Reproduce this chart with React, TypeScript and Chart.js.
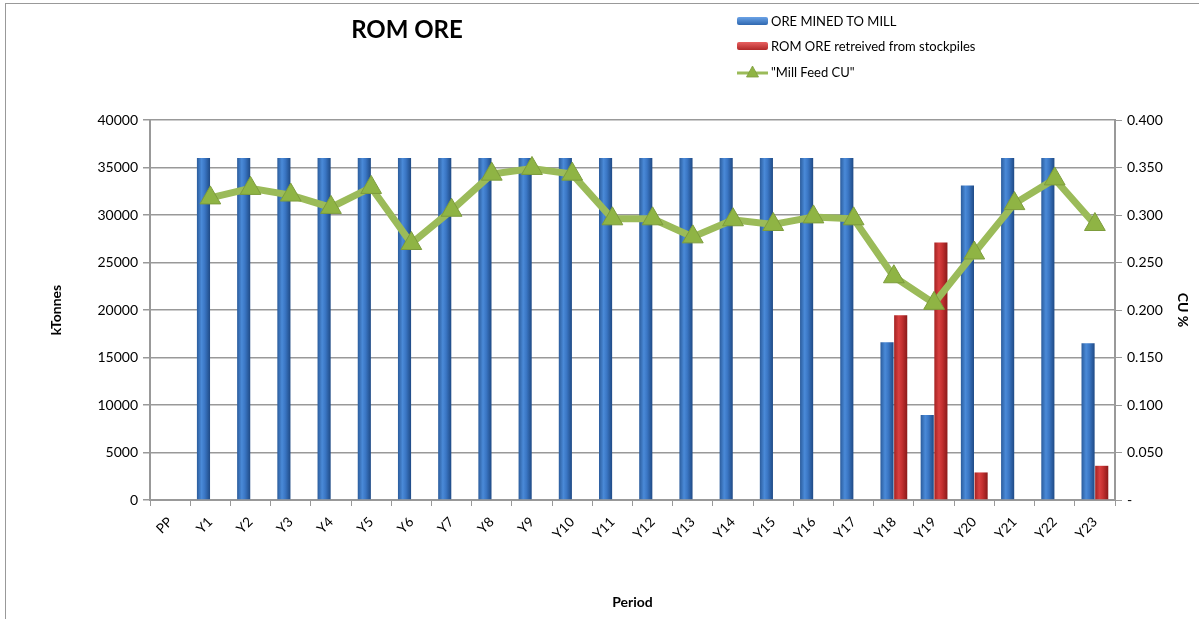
import React, { useEffect, useRef } from "react";
import { Chart, registerables } from "chart.js";

Chart.register(...registerables);

const categories = ["PP","Y1","Y2","Y3","Y4","Y5","Y6","Y7","Y8","Y9","Y10","Y11","Y12","Y13","Y14","Y15","Y16","Y17","Y18","Y19","Y20","Y21","Y22","Y23"];
const oreMinedToMill = [null,36000,36000,36000,36000,36000,36000,36000,36000,36000,36000,36000,36000,36000,36000,36000,36000,36000,16600,8950,33100,36000,36000,16500];
const romFromStockpiles = [null,null,null,null,null,null,null,null,null,null,null,null,null,null,null,null,null,null,19450,27100,2900,null,null,3600];
const millFeedCu = [null,0.318,0.328,0.321,0.308,0.329,0.270,0.305,0.343,0.349,0.343,0.296,0.296,0.277,0.295,0.290,0.298,0.296,0.235,0.207,0.260,0.312,0.338,0.290];
const leftTicks = [0,5000,10000,15000,20000,25000,30000,35000,40000];

const FONT = "Lato, 'Open Sans', sans-serif";
const CP = 0.68;
const BP = 0.96;

function barGradient(ctx: any, dsIndex: number, colors: string[]) {
  const chart = ctx.chart;
  const xs = chart && chart.scales && chart.scales.x;
  if (!xs || ctx.dataIndex === undefined || !chart.ctx) return colors[1];
  const cw = xs.width / categories.length;
  const center = xs.getPixelForValue(ctx.dataIndex);
  if (!isFinite(cw) || !isFinite(center) || cw <= 0) return colors[1];
  const gw = cw * CP;
  const bw = (gw / 2) * BP;
  const bc = dsIndex === 0 ? center - gw / 4 : center + gw / 4;
  const g = chart.ctx.createLinearGradient(bc - bw / 2, 0, bc + bw / 2, 0);
  g.addColorStop(0, colors[0]);
  g.addColorStop(0.35, colors[1]);
  g.addColorStop(0.6, colors[2]);
  g.addColorStop(1, colors[3]);
  return g;
}

export default function App() {
  const ref = useRef<HTMLCanvasElement | null>(null);
  useEffect(() => {
    if (!ref.current) return;
    const chart = new Chart(ref.current, {
      type: "bar",
      data: {
        labels: categories,
        datasets: [
          {
            type: "line",
            label: '"Mill Feed CU"',
            data: millFeedCu,
            yAxisID: "y2",
            borderColor: "#9bbb59",
            borderWidth: 7,
            pointStyle: "triangle",
            pointRadius: 12,
            pointBackgroundColor: "#8fb444",
            pointBorderColor: "#7d9c3c",
            pointBorderWidth: 1,
            order: 0,
            tension: 0,
          } as any,
          {
            label: "ORE MINED TO MILL",
            data: oreMinedToMill,
            yAxisID: "y",
            backgroundColor: (c: any) => barGradient(c, 0, ["#2b5c9c", "#4a8ad8", "#3a76c4", "#1f4a85"]),
            categoryPercentage: CP,
            barPercentage: BP,
            order: 1,
          },
          {
            label: "ROM ORE retreived from stockpiles",
            data: romFromStockpiles,
            yAxisID: "y",
            backgroundColor: (c: any) => barGradient(c, 1, ["#a42222", "#d84040", "#c43030", "#8a1a1a"]),
            categoryPercentage: CP,
            barPercentage: BP,
            order: 2,
          },
        ],
      },
      options: {
        animation: false,
        responsive: false,
        maintainAspectRatio: false,
        layout: { padding: { top: 120, left: 44, right: 4, bottom: 4 } },
        plugins: { legend: { display: false }, title: { display: false }, tooltip: { enabled: false } },
        scales: {
          x: {
            grid: { display: true, drawOnChartArea: false, color: "#999", tickLength: 6, offset: true },
            border: { color: "#999", width: 2 },
            ticks: { color: "#000", font: { family: FONT, size: 13.5 }, maxRotation: 45, minRotation: 45, autoSkip: false, padding: 8 },
            title: { display: true, text: "Period", color: "#000", font: { family: FONT, size: 14, weight: "bold" } },
            afterFit: (s: any) => { s.height = 115; },
          },
          y: {
            position: "left",
            min: 0,
            max: 40000,
            afterBuildTicks: (s: any) => { s.ticks = leftTicks.map((v) => ({ value: v })); },
            grid: { color: "#999", lineWidth: 1.5, tickLength: 7 },
            border: { color: "#999", width: 2 },
            ticks: { color: "#000", font: { family: FONT, size: 14 }, padding: 5, callback: (v: any) => String(v) },
            title: { display: true, text: "kTonnes", color: "#000", font: { family: FONT, size: 14, weight: "bold" } },
            afterFit: (s: any) => { s.width = 106; },
          },
          y2: {
            position: "right",
            min: 0,
            max: 0.4,
            grid: { drawOnChartArea: false, color: "#999", tickLength: 7 },
            border: { color: "#999", width: 2 },
            ticks: {
              stepSize: 0.05,
              color: "#000",
              font: { family: FONT, size: 14 },
              padding: 5,
              callback: (v: any) => (Math.abs(Number(v)) < 1e-9 ? "-" : Number(v).toFixed(3)),
            },
            title: { display: true, text: "CU %", color: "#000", font: { family: FONT, size: 14, weight: "bold" } },
            afterFit: (s: any) => { s.width = 80; },
          },
        },
      } as any,
    });
    return () => chart.destroy();
  }, []);

  const legendRow = (top: number, swatch: React.ReactNode, text: string) => (
    <div style={{ position: "absolute", left: 737, top, height: 16, display: "flex", alignItems: "center", fontFamily: FONT, fontSize: 13, color: "#000", whiteSpace: "nowrap" }}>
      {swatch}
      <span style={{ marginLeft: 3 }}>{text}</span>
    </div>
  );

  return (
    <div style={{ position: "fixed", left: 0, top: 0, width: 1199, height: 619, background: "#fff", overflow: "hidden" }}>
      <div style={{ position: "absolute", left: 5, top: 3, width: 1300, height: 700, borderLeft: "1.5px solid #999", borderTop: "1.5px solid #999" }} />
      <canvas ref={ref} width={1199} height={619} style={{ position: "absolute", left: 0, top: 0 }} />
      <div style={{ position: "absolute", left: 307, top: 14, width: 200, textAlign: "center", fontFamily: FONT, fontWeight: "bold", fontSize: 24, color: "#000" }}>ROM ORE</div>
      {legendRow(13, <div style={{ width: 31, height: 8, borderRadius: 2, background: "linear-gradient(#6aa2e6, #2f68b0)" }} />, "ORE MINED  TO MILL")}
      {legendRow(38, <div style={{ width: 31, height: 8, borderRadius: 2, background: "linear-gradient(#e86060, #b02828)" }} />, "ROM ORE retreived from stockpiles")}
      {legendRow(64, (
        <svg width={31} height={12}>
          <line x1={0} y1={7} x2={31} y2={7} stroke="#9bbb59" strokeWidth={3} />
          <polygon points="15.5,0 21.5,11 9.5,11" fill="#8fb444" stroke="#7d9c3c" strokeWidth={0.8} />
        </svg>
      ), '"Mill Feed CU"')}
    </div>
  );
}
